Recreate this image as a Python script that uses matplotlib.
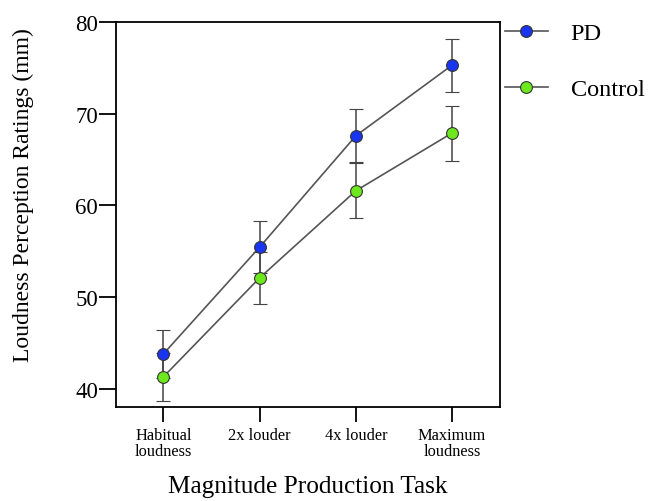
import matplotlib
matplotlib.use("Agg")
import matplotlib.pyplot as plt

tasks = ["Habitual\nloudness", "2x louder", "4x louder", "Maximum\nloudness"]
pd_mean = [43.8, 55.45, 67.6, 75.3]
pd_err = [2.6, 2.85, 2.9, 2.9]
ctrl_mean = [41.3, 52.1, 61.6, 67.9]
ctrl_err = [2.6, 2.8, 3.0, 3.0]
y_ticks = [40, 50, 60, 70, 80]

plt.rcParams["font.family"] = ["Liberation Serif", "DejaVu Serif"]

fig = plt.figure(figsize=(6.53, 5.02), dpi=100)
ax = fig.add_axes([0.178, 0.187, 0.588, 0.767])

x = list(range(len(tasks)))
common = dict(color="#555555", lw=1.2, ecolor="#444444", elinewidth=1.1,
              capsize=5, capthick=1.1, marker="o", markersize=8.5,
              markeredgecolor="#333333", markeredgewidth=0.8)
ax.errorbar(x, pd_mean, yerr=pd_err, markerfacecolor="#1a35f0", label="PD", **common)
ax.errorbar(x, ctrl_mean, yerr=ctrl_err, markerfacecolor="#6ee81e", label="Control", **common)

ax.set_xlim(-0.49, 3.5)
ax.set_ylim(38, 80)
ax.set_yticks(y_ticks)
ax.set_xticks(x)
ax.set_xticklabels(tasks, fontsize=11.8, linespacing=1.0)
ax.tick_params(axis="y", labelsize=16.5, length=12, width=1.3, direction="out", pad=1)
ax.tick_params(axis="x", length=11, width=1.3, direction="out", pad=3)
for s in ax.spines.values():
    s.set_linewidth(1.3)

ax.set_ylabel("Loudness Perception Ratings (mm)", fontsize=17)
ax.yaxis.set_label_coords(-0.213, 0.553)
ax.set_xlabel("Magnitude Production Task", fontsize=18.2, labelpad=12)

handles, labels = ax.get_legend_handles_labels()
handles = [h[0] for h in handles]
fig.legend(handles, labels, loc="upper left",
           bbox_to_anchor=(505 / 653, 1 - 23 / 502),
           frameon=False, fontsize=17.5, handlelength=1.75, handletextpad=0.95,
           labelspacing=1.41, borderaxespad=0, borderpad=0)

fig.savefig("out.png", dpi=100)
